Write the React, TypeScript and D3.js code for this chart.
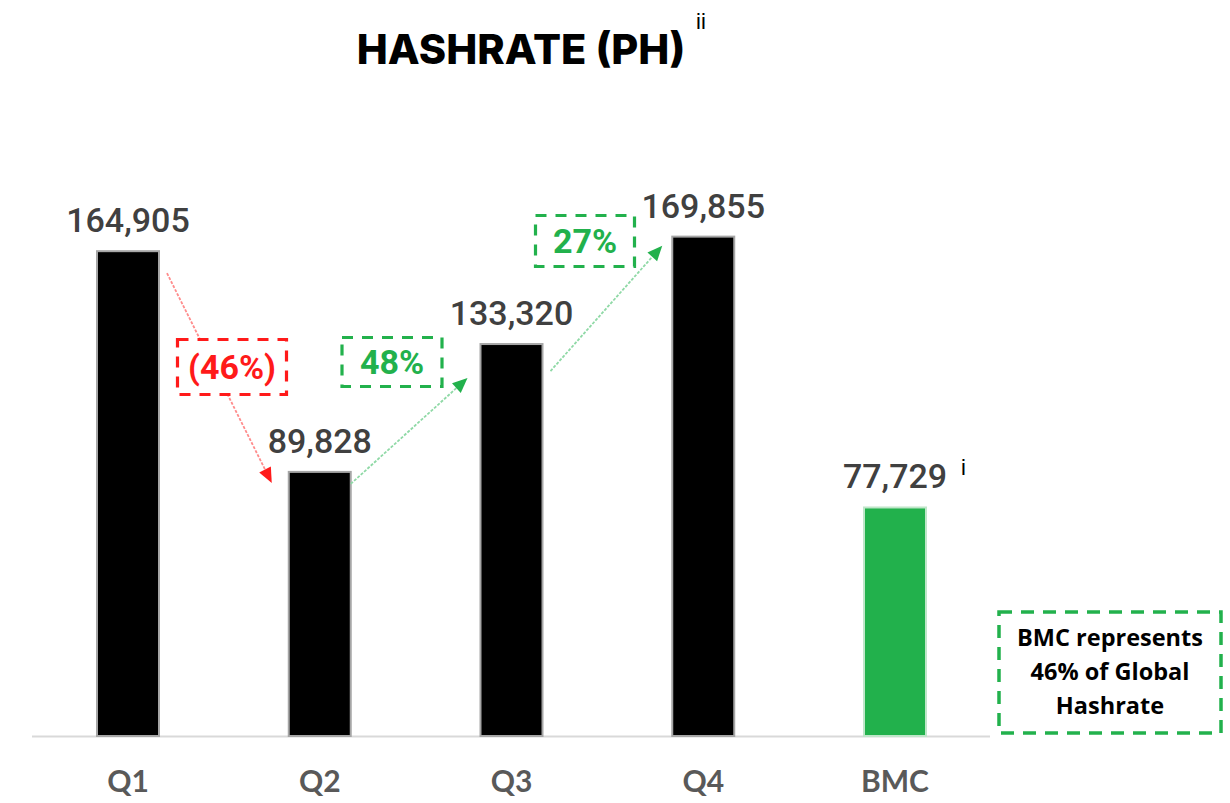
import React from "react";
import * as d3 from "d3";

const categories = ["Q1", "Q2", "Q3", "Q4", "BMC"];
const hashrate = [164905, 89828, 133320, 169855, 77729];
const barColors = ["#000000", "#000000", "#000000", "#000000", "#22b14c"];
const barStrokes = ["#a6a6a6", "#a6a6a6", "#a6a6a6", "#a6a6a6", "#bfe6c9"];
const changeLabels = ["(46%)", "48%", "27%"];
const changeColors = ["#ff1a1a", "#22b14c", "#22b14c"];
const noteLines = ["BMC represents", "46% of Global", "Hashrate"];

const W = 1230;
const H = 803;

export default function App() {
  const x = d3.scalePoint<string>().domain(categories).range([128, 895]);
  const y = d3.scaleLinear().domain([0, 200000]).range([736, 148]);
  const bw = 62;
  const fmt = d3.format(",");

  const arrowOffsets = [
    [8, 22, -17, 11],
    [0, 12, -13, 34],
    [8, 27, -10, 9],
  ];
  const boxes = [
    { cx: 232, cy: 367, w: 109, h: 55 },
    { cx: 392, cy: 362, w: 100, h: 49 },
    { cx: 585, cy: 241, w: 99, h: 51 },
  ];
  const arrowLight = ["#ff8c8c", "#8fd9a6", "#8fd9a6"];

  return (
    <svg
      width={W}
      height={H}
      style={{ position: "absolute", left: 0, top: 0, background: "#fff" }}
    >
      {/* Title */}
      <text x={521} y={64} textAnchor="middle" fontFamily="Inter, 'Open Sans', sans-serif" fontWeight={800} fontSize={41.5} fill="#000">
        HASHRATE (PH)
      </text>
      <text x={701} y={29} textAnchor="middle" fontFamily="'Liberation Sans', sans-serif" fontSize={22} fill="#000">
        ii
      </text>

      {/* baseline */}
      <line x1={32} x2={990} y1={736.5} y2={736.5} stroke="#d9d9d9" strokeWidth={2} />

      {/* bars */}
      {categories.map((c, i) => (
        <rect
          key={c}
          x={(x(c) as number) - bw / 2}
          y={y(hashrate[i])}
          width={bw}
          height={y(0) - y(hashrate[i])}
          fill={barColors[i]}
          stroke={barStrokes[i]}
          strokeWidth={2}
        />
      ))}

      {/* value labels */}
      {categories.map((c, i) => (
        <text
          key={"v" + c}
          x={x(c) as number}
          y={y(hashrate[i]) - 19}
          textAnchor="middle"
          fontFamily="Roboto, 'Liberation Sans', sans-serif"
          fontWeight={500}
          fontSize={34}
          fill="#404040"
        >
          {fmt(hashrate[i])}
        </text>
      ))}
      <text x={(x("BMC") as number) + 66} y={y(hashrate[4]) - 32} fontFamily="'Liberation Sans', sans-serif" fontSize={22} fill="#000">
        i
      </text>

      {/* category labels */}
      {categories.map((c) => (
        <text
          key={"c" + c}
          x={x(c) as number}
          y={792}
          textAnchor="middle"
          fontFamily="Lato, 'Liberation Sans', sans-serif"
          fontWeight={700}
          fontSize={30}
          fill="#595959"
        >
          {c}
        </text>
      ))}

      {/* change arrows */}
      {arrowOffsets.map((o, i) => {
        const a = categories[i];
        const b = categories[i + 1];
        const x1 = (x(a) as number) + bw / 2 + o[0];
        const y1 = y(hashrate[i]) + o[1];
        const x2 = (x(b) as number) - bw / 2 + o[2];
        const y2 = y(hashrate[i + 1]) + o[3];
        const ang = Math.atan2(y2 - y1, x2 - x1);
        const hl = 15;
        const hw = 6.5;
        const bx = x2 - hl * Math.cos(ang);
        const by = y2 - hl * Math.sin(ang);
        const px = -Math.sin(ang) * hw;
        const py = Math.cos(ang) * hw;
        return (
          <g key={"a" + i}>
            <line x1={x1} y1={y1} x2={bx} y2={by} stroke={arrowLight[i]} strokeWidth={1.8} strokeDasharray="3 1.5" />
            <path d={`M${x2},${y2} L${bx + px},${by + py} L${bx - px},${by - py} Z`} fill={changeColors[i]} />
          </g>
        );
      })}

      {/* change boxes */}
      {boxes.map((bx, i) => (
        <g key={"b" + i}>
          <rect
            x={bx.cx - bx.w / 2}
            y={bx.cy - bx.h / 2}
            width={bx.w}
            height={bx.h}
            fill="#fff"
            stroke={changeColors[i]}
            strokeWidth={3.2}
            strokeDasharray="11 9"
          />
          <text
            x={bx.cx}
            y={bx.cy + 12}
            textAnchor="middle"
            fontFamily="Roboto, 'Liberation Sans', sans-serif"
            fontWeight={700}
            fontSize={34}
            fill={changeColors[i]}
          >
            {changeLabels[i]}
          </text>
        </g>
      ))}

      {/* note box */}
      <rect x={999} y={612} width={222} height={121} fill="#fff" stroke="#22b14c" strokeWidth={3.5} strokeDasharray="13 9" />
      {noteLines.map((t, i) => (
        <text
          key={"n" + i}
          x={1110}
          y={646 + i * 34}
          textAnchor="middle"
          fontFamily="'Open Sans', sans-serif"
          fontWeight={700}
          fontSize={23.5}
          fill="#000"
        >
          {t}
        </text>
      ))}
    </svg>
  );
}
